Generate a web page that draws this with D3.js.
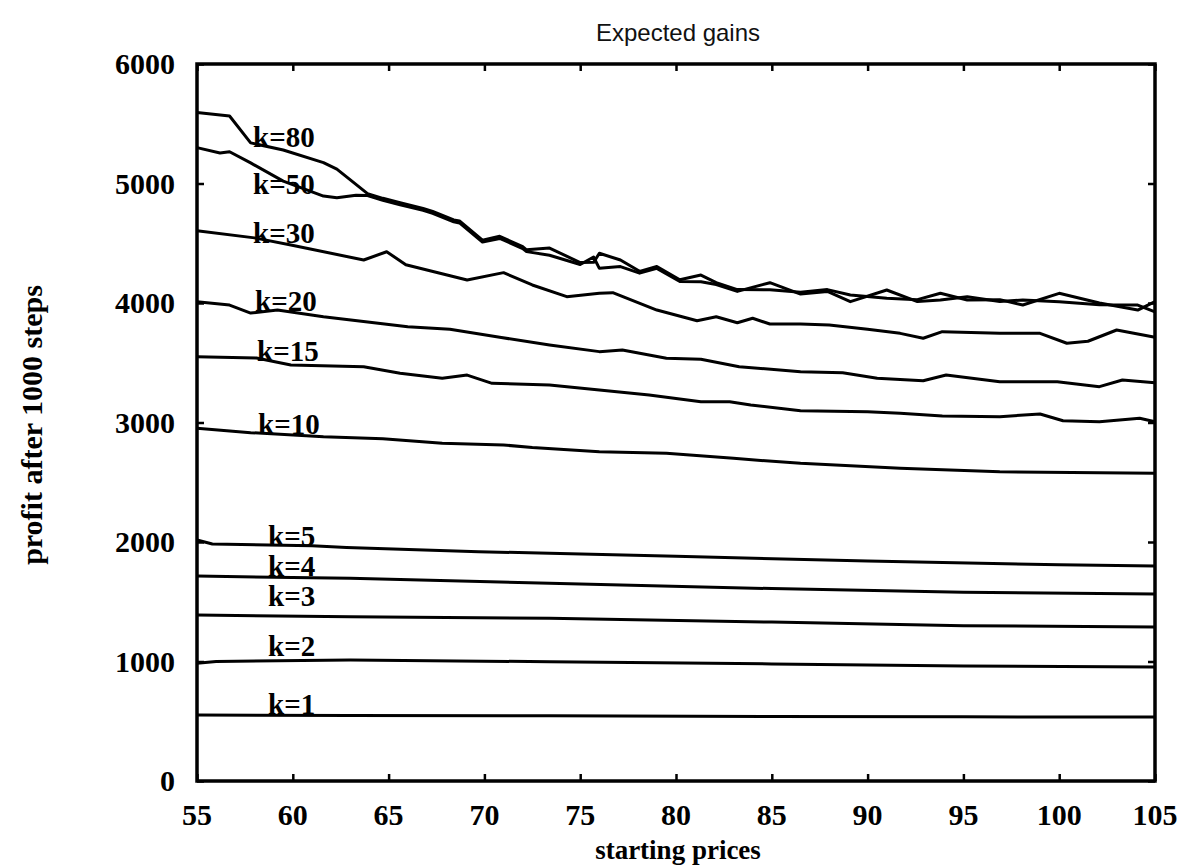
<!DOCTYPE html>
<html>
<head>
<meta charset="utf-8">
<script src="https://cdn.jsdelivr.net/npm/d3@7"></script>
<style>
  body { margin: 0; background: #fff; }
  svg { display: block; }
</style>
</head>
<body>
<div id="chart"></div>
<script>
// --- Data ---
const xTicks = [55, 60, 65, 70, 75, 80, 85, 90, 95, 100, 105];
const yTicks = [0, 1000, 2000, 3000, 4000, 5000, 6000];

const k80 = [[55, 5595], [56.7, 5565], [57.8, 5340], [59.5, 5280], [61.6, 5175], [62.3, 5120], [63.9, 4915],
  [64.7, 4876], [65.6, 4840], [66.8, 4792], [67.3, 4766], [68.4, 4695], [68.7, 4686], [69.9, 4525], [70.8, 4558],
  [72.0, 4471], [72.2, 4445], [73.4, 4460], [75.0, 4338], [75.7, 4340], [76.0, 4416], [77.1, 4360], [78.1, 4265],
  [79.0, 4305], [80.2, 4195], [81.3, 4234], [82.1, 4170], [83.2, 4112], [84.9, 4110], [86.5, 4090], [87.9, 4112],
  [89.1, 4067], [91.0, 4040], [92.6, 4028], [93.8, 4081], [95.2, 4025], [96.9, 4028], [98.1, 3983], [100.0, 4081],
  [102.1, 4000], [104.1, 3941], [105, 4011]];

const k50 = [[55, 5300], [56.2, 5255], [56.7, 5266], [57.8, 5172], [59.5, 5020], [61.6, 4895], [62.3, 4880],
  [63.3, 4902], [63.9, 4900], [64.7, 4860], [65.6, 4822], [66.8, 4776], [67.3, 4750], [68.4, 4680], [68.7, 4670],
  [69.9, 4510], [70.8, 4540], [72.0, 4456], [72.2, 4430], [73.4, 4400], [75.0, 4322], [75.7, 4385], [76.0, 4290],
  [77.1, 4305], [78.1, 4250], [79.0, 4290], [80.2, 4180], [81.3, 4178], [82.1, 4155], [83.2, 4097], [84.9, 4170],
  [86.5, 4075], [87.9, 4097], [89.1, 4011], [91.0, 4109], [92.6, 4012], [93.8, 4025], [95.2, 4053], [96.9, 4012],
  [98.1, 4025], [100.0, 4011], [102.1, 3985], [104.1, 3983], [105, 3925]];

const k30 = [[55, 4605], [58, 4545], [59.9, 4485], [63.7, 4360], [64.9, 4429], [65.9, 4320], [69.1, 4192],
  [71.0, 4254], [72.5, 4151], [74.3, 4053], [76.0, 4081], [76.7, 4086], [79.0, 3941], [81.1, 3852], [82.1, 3885],
  [83.2, 3835], [84.0, 3872], [84.9, 3824], [86.5, 3825], [88.0, 3816], [90.0, 3780], [91.7, 3746], [92.9, 3705],
  [93.9, 3760], [96.9, 3746], [99.0, 3746], [100.4, 3663], [101.5, 3680], [103.0, 3774], [105, 3713]];

const k20 = [[55, 4011], [56.7, 3983], [57.8, 3916], [59.2, 3941], [61.6, 3885], [66, 3802], [68.2, 3780],
  [70.8, 3713], [73.4, 3649], [76.0, 3593], [77.2, 3607], [79.5, 3537], [81.3, 3529], [83.3, 3467], [86.5, 3425],
  [88.7, 3417], [90.5, 3370], [92.9, 3350], [94.1, 3397], [96.9, 3341], [99.9, 3341], [102.1, 3300], [103.3, 3356],
  [105, 3333]];

const k15 = [[55, 3551], [58.1, 3540], [59.9, 3481], [63.7, 3467], [65.6, 3412], [67.8, 3370], [69.1, 3397],
  [70.4, 3328], [73.4, 3314], [76.0, 3272], [78.6, 3230], [81.3, 3174], [82.8, 3174], [83.9, 3146], [86.5, 3099],
  [90.0, 3090], [91.7, 3077], [93.9, 3054], [96.9, 3049], [99.0, 3071], [100.2, 3015], [102.1, 3007], [104.2, 3035],
  [105, 3007]];

const k10 = [[55, 2951], [57.8, 2915], [61.6, 2881], [64.7, 2865], [67.8, 2826], [71.0, 2812], [72.5, 2790],
  [76.0, 2756], [79.5, 2742], [83.0, 2700], [86.5, 2658], [91.7, 2617], [96.9, 2588], [105, 2575]];

const k5 = [[55, 2017], [55.8, 1983], [61, 1969], [62.8, 1955], [69.7, 1919], [73.4, 1905], [80, 1880],
  [90, 1840], [100, 1810], [105, 1799]];
const k4 = [[55, 1715], [63, 1696], [73.4, 1654], [85, 1610], [95, 1580], [105, 1565]];
const k3 = [[55, 1389], [63, 1375], [73.4, 1361], [85, 1330], [95, 1300], [105, 1289]];
const k2 = [[55, 985], [56, 1000], [63, 1013], [73.4, 998], [85, 980], [95, 962], [105, 954]];
const k1 = [[55, 552], [63, 548], [73.4, 545], [85, 540], [95, 537], [105, 535]];

const seriesLabels = ["k=80", "k=50", "k=30", "k=20", "k=15", "k=10", "k=5", "k=4", "k=3", "k=2", "k=1"];
const seriesData = [k80, k50, k30, k20, k15, k10, k5, k4, k3, k2, k1];

// label placement (pixels), kept apart from the data
const labelPos = [[253, 147], [253, 194], [253, 243], [255, 311], [257, 361], [258, 434],
  [268, 546], [268, 576], [268, 606], [268, 656], [268, 714]];

// --- Configuration ---
const width = 1194;
const height = 868;
const plot = { left: 197, right: 1155, top: 64, bottom: 781 };
const serif = "'Liberation Serif', 'Times New Roman', serif";

const svg = d3.select("#chart")
  .append("svg")
  .attr("width", width)
  .attr("height", height);

// --- Scales ---
const xScale = d3.scaleLinear().domain([55, 105]).range([plot.left, plot.right]);
const yScale = d3.scaleLinear().domain([0, 6000]).range([plot.bottom, plot.top]);

// --- Title ---
svg.append("text")
  .attr("x", 678).attr("y", 41)
  .attr("text-anchor", "middle")
  .attr("font-family", "'Liberation Sans', Arial, sans-serif")
  .attr("font-size", "24px")
  .attr("fill", "#111")
  .text("Expected gains");

// --- Axes (inward ticks on all four sides) ---
const axisStyle = g => {
  g.select(".domain").remove();
  g.selectAll(".tick line").attr("stroke", "#000").attr("stroke-width", 2.5);
};

svg.append("g")
  .attr("transform", `translate(0,${plot.bottom})`)
  .call(d3.axisBottom(xScale).tickValues(xTicks).tickSize(-7).tickFormat(""))
  .call(axisStyle);
svg.append("g")
  .attr("transform", `translate(0,${plot.top})`)
  .call(d3.axisTop(xScale).tickValues(xTicks).tickSize(-7).tickFormat(""))
  .call(axisStyle);
svg.append("g")
  .attr("transform", `translate(${plot.left},0)`)
  .call(d3.axisLeft(yScale).tickValues(yTicks).tickSize(-7).tickFormat(""))
  .call(axisStyle);
svg.append("g")
  .attr("transform", `translate(${plot.right},0)`)
  .call(d3.axisRight(yScale).tickValues(yTicks).tickSize(-7).tickFormat(""))
  .call(axisStyle);

// frame
svg.append("rect")
  .attr("x", plot.left).attr("y", plot.top)
  .attr("width", plot.right - plot.left)
  .attr("height", plot.bottom - plot.top)
  .attr("fill", "none")
  .attr("stroke", "#000")
  .attr("stroke-width", 3.5);

// tick labels
svg.append("g").selectAll("text")
  .data(xTicks)
  .enter().append("text")
  .attr("x", d => xScale(d))
  .attr("y", 825)
  .attr("text-anchor", "middle")
  .attr("font-family", serif)
  .attr("font-weight", "bold")
  .attr("font-size", "30px")
  .text(d => d);

svg.append("g").selectAll("text")
  .data(yTicks)
  .enter().append("text")
  .attr("x", 175)
  .attr("y", d => yScale(d))
  .attr("dy", "0.34em")
  .attr("text-anchor", "end")
  .attr("font-family", serif)
  .attr("font-weight", "bold")
  .attr("font-size", "30px")
  .text(d => d);

// axis titles
svg.append("text")
  .attr("x", 678).attr("y", 859)
  .attr("text-anchor", "middle")
  .attr("font-family", serif)
  .attr("font-weight", "bold")
  .attr("font-size", "27px")
  .text("starting prices");

svg.append("text")
  .attr("transform", "translate(42,425) rotate(-90)")
  .attr("text-anchor", "middle")
  .attr("font-family", serif)
  .attr("font-weight", "bold")
  .attr("font-size", "30px")
  .text("profit after 1000 steps");

// --- Lines ---
const line = d3.line()
  .x(d => xScale(d[0]))
  .y(d => yScale(d[1]));

svg.append("g").selectAll("path")
  .data(seriesData)
  .enter().append("path")
  .attr("d", line)
  .attr("fill", "none")
  .attr("stroke", "#000")
  .attr("stroke-width", 3)
  .attr("stroke-linejoin", "round");

// --- Series labels ---
svg.append("g").selectAll("text")
  .data(seriesLabels)
  .enter().append("text")
  .attr("x", (d, i) => labelPos[i][0])
  .attr("y", (d, i) => labelPos[i][1])
  .attr("font-family", serif)
  .attr("font-weight", "bold")
  .attr("font-size", "29px")
  .text(d => d);
</script>
</body>
</html>
